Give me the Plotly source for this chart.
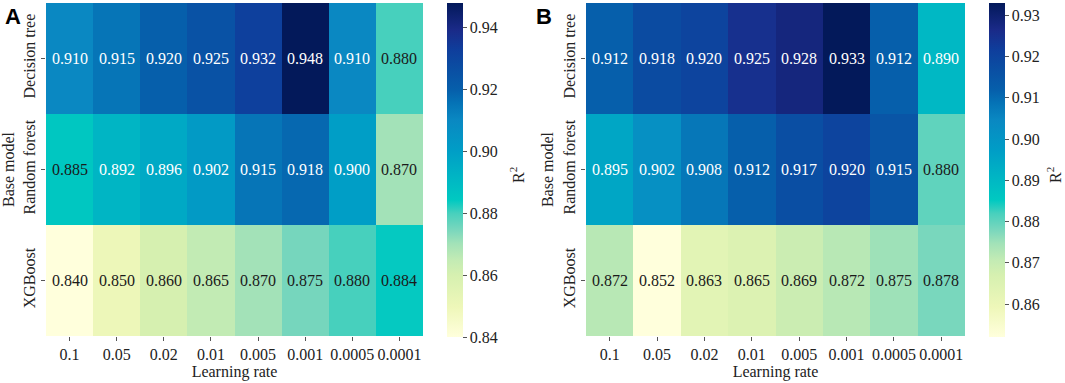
import plotly.graph_objects as go

learning_rates = ["0.1", "0.05", "0.02", "0.01", "0.005", "0.001", "0.0005", "0.0001"]
models = ["Decision tree", "Random forest", "XGBoost"]

r2_a_decision_tree = [0.910, 0.915, 0.920, 0.925, 0.932, 0.948, 0.910, 0.880]
r2_a_random_forest = [0.885, 0.892, 0.896, 0.902, 0.915, 0.918, 0.900, 0.870]
r2_a_xgboost = [0.840, 0.850, 0.860, 0.865, 0.870, 0.875, 0.880, 0.884]

r2_b_decision_tree = [0.912, 0.918, 0.920, 0.925, 0.928, 0.933, 0.912, 0.890]
r2_b_random_forest = [0.895, 0.902, 0.908, 0.912, 0.917, 0.920, 0.915, 0.880]
r2_b_xgboost = [0.872, 0.852, 0.863, 0.865, 0.869, 0.872, 0.875, 0.878]

cbar_ticks_a = [0.84, 0.86, 0.88, 0.90, 0.92, 0.94]
cbar_ticks_b = [0.86, 0.87, 0.88, 0.89, 0.90, 0.91, 0.92, 0.93]

W, H = 1065, 383
SERIF = "Liberation Serif, Times New Roman, serif"

colorscale = [
    [0.00, "#ffffdc"],
    [0.09, "#eef7b9"],
    [0.185, "#d6f0b0"],
    [0.23, "#c3ebb4"],
    [0.28, "#a2e2b8"],
    [0.32, "#7ad7bd"],
    [0.37, "#48d0bd"],
    [0.41, "#00c9c1"],
    [0.48, "#00b5c4"],
    [0.56, "#009dc6"],
    [0.65, "#0a88c2"],
    [0.70, "#0573b6"],
    [0.74, "#065fab"],
    [0.80, "#0a4fa3"],
    [0.86, "#0f3e9c"],
    [0.92, "#1a2a88"],
    [1.00, "#03195a"],
]


def px_x(p):
    return p / W


def px_y(p):
    return 1 - p / H


fig = go.Figure()

panels = [
    dict(z=[r2_a_decision_tree, r2_a_random_forest, r2_a_xgboost], zmin=0.84, zmax=0.948,
         ticks=cbar_ticks_a, xa="x", ya="y", cbx=447, label="A", lx=3, rx=517),
    dict(z=[r2_b_decision_tree, r2_b_random_forest, r2_b_xgboost], zmin=0.852, zmax=0.933,
         ticks=cbar_ticks_b, xa="x2", ya="y2", cbx=989, label="B", lx=534, rx=1054),
]

annotations = []
for i, p in enumerate(panels):
    fig.add_trace(go.Heatmap(
        z=p["z"], x=learning_rates, y=models,
        zmin=p["zmin"], zmax=p["zmax"], colorscale=colorscale,
        xaxis=p["xa"], yaxis=p["ya"], hoverongaps=False,
        colorbar=dict(
            x=px_x(p["cbx"]), xanchor="left", xpad=0, ypad=0,
            y=px_y(3), yanchor="top", len=(337 - 3) / H, lenmode="fraction",
            thickness=16, outlinewidth=0,
            tickvals=p["ticks"], ticktext=[f"{t:.2f}" for t in p["ticks"]],
            ticks="outside", ticklen=4, tickcolor="#555",
            tickfont=dict(family=SERIF, size=16, color="#222"),
        ),
    ))
    span = p["zmax"] - p["zmin"]
    for r, row in enumerate(p["z"]):
        for c, v in enumerate(row):
            pos = (v - p["zmin"]) / span
            annotations.append(dict(
                x=c, y=r, xref=p["xa"], yref=p["ya"],
                text=f"{v:.3f}", showarrow=False,
                font=dict(family=SERIF, size=16, color="white" if pos > 0.45 else "#1a1a1a"),
            ))
    annotations.append(dict(
        x=px_x(p["lx"]), y=px_y(2), xref="paper", yref="paper",
        xanchor="left", yanchor="top", text=f"<b>{p['label']}</b>", showarrow=False,
        font=dict(family="Liberation Sans, Arial, sans-serif", size=22, color="black"),
    ))
    annotations.append(dict(
        x=px_x(p["rx"]), y=px_y(175), xref="paper", yref="paper",
        xanchor="center", yanchor="middle", text="R<sup>2</sup>", textangle=-90,
        showarrow=False, font=dict(family=SERIF, size=16, color="#222"),
    ))

axis_common_x = dict(
    type="category", ticks="outside", ticklen=4, tickcolor="#555", showgrid=False,
    zeroline=False, showline=False,
    tickfont=dict(family=SERIF, size=16, color="#222"),
    title=dict(text="Learning rate", font=dict(family=SERIF, size=16, color="#222"), standoff=2),
)
axis_common_y = dict(
    type="category", ticks="outside", ticklen=4, tickcolor="#555", showgrid=False,
    zeroline=False, showline=False, tickangle=-90, autorange="reversed",
    tickfont=dict(family=SERIF, size=16, color="#222"),
    title=dict(text="Base model", font=dict(family=SERIF, size=16, color="#222"), standoff=2),
)

fig.update_layout(
    width=W, height=H,
    margin=dict(l=0, r=0, t=0, b=0),
    paper_bgcolor="white", plot_bgcolor="white",
    xaxis=dict(domain=[px_x(46), px_x(423)], anchor="y", **axis_common_x),
    yaxis=dict(domain=[px_y(336), px_y(3)], anchor="x", **axis_common_y),
    xaxis2=dict(domain=[px_x(586), px_x(965)], anchor="y2", **axis_common_x),
    yaxis2=dict(domain=[px_y(336), px_y(3)], anchor="x2", **axis_common_y),
    annotations=annotations,
    showlegend=False,
)

fig.write_html("out.html", config={"displayModeBar": False},
               post_script="document.body.style.margin='0';")
